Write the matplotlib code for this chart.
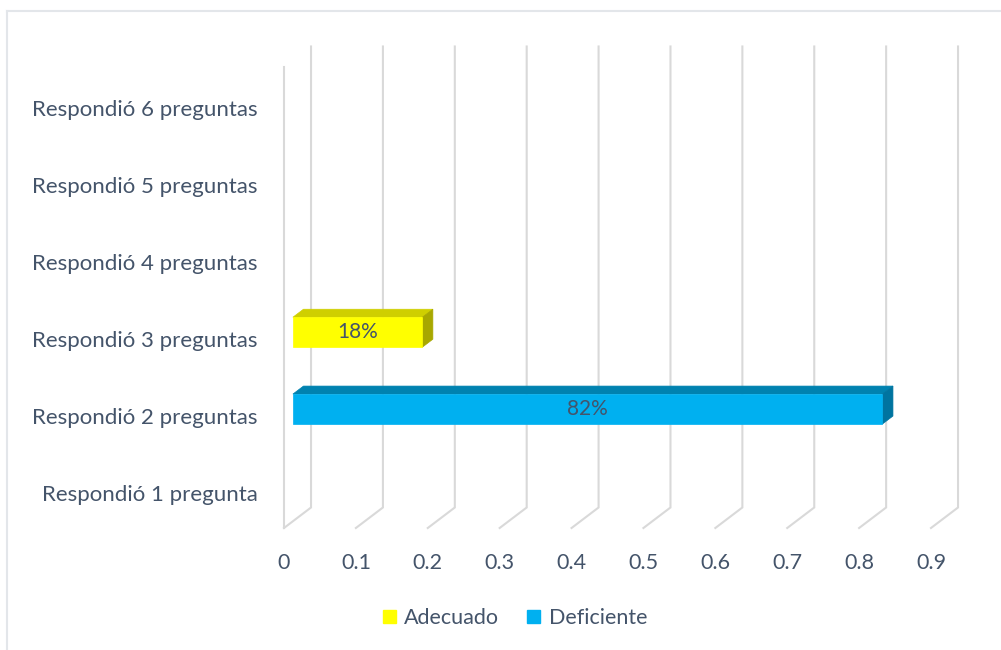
import matplotlib.pyplot as plt
from matplotlib.patches import Polygon, Patch
from matplotlib.lines import Line2D

plt.rcParams['font.family'] = ['Lato', 'DejaVu Sans']

# data
categorias = ["Respondió 1 pregunta", "Respondió 2 preguntas", "Respondió 3 preguntas",
              "Respondió 4 preguntas", "Respondió 5 preguntas", "Respondió 6 preguntas"]
adecuado = [0, 0, 0.18, 0, 0, 0]
deficiente = [0, 0.82, 0, 0, 0, 0]
ticks_x = [0, 0.1, 0.2, 0.3, 0.4, 0.5, 0.6, 0.7, 0.8, 0.9]

texto = "#44546A"
grid = "#D9D9D9"
fs = 15.5

# fake 3D: depth shifts points right and up
DX = 0.0376
DY = 0.267


def p3(v, c, d):
    return (v + d * DX, c + d * DY)


fig = plt.figure(figsize=(10.01, 6.5), dpi=100)
ax = fig.add_axes([284 / 1001, (650 - 528) / 650, (931 - 284) / 1001, (528 - 67) / 650])
ax.set_xlim(0, 0.9)
ax.set_ylim(0.54, 6.54)
for s in ax.spines.values():
    s.set_visible(False)

# walls: back gridlines + floor diagonals + side wall edge
y0, y1 = ax.get_ylim()
for v in ticks_x:
    xs, ys = zip(p3(v, y0, 0), p3(v, y0, 1), p3(v, y1, 1))
    ax.plot(xs, ys, color=grid, lw=1.5, clip_on=False, zorder=1, solid_joinstyle="miter")
xs, ys = zip(p3(0, y0, 0), p3(0, y1, 0))
ax.plot(xs, ys, color=grid, lw=1.5, clip_on=False, zorder=1)


def barra3d(v, c, front, top, side, h=0.195, d0=0.33, d1=0.72):
    caras = [
        ([p3(0, c + h, d0), p3(v, c + h, d0), p3(v, c + h, d1), p3(0, c + h, d1)], top),
        ([p3(v, c - h, d0), p3(v, c + h, d0), p3(v, c + h, d1), p3(v, c - h, d1)], side),
        ([p3(0, c - h, d0), p3(v, c - h, d0), p3(v, c + h, d0), p3(0, c + h, d0)], front),
    ]
    for pts, col in caras:
        ax.add_patch(Polygon(pts, closed=True, facecolor=col, edgecolor=col, lw=0.5,
                             clip_on=False, zorder=3))
    cx, cy = p3(v / 2, c, d0)
    ax.text(cx, cy, f"{v:.0%}", ha="center", va="center", color=texto, fontsize=fs - 0.5, zorder=4)


for i, v in enumerate(adecuado):
    if v > 0:
        barra3d(v, i + 1, "#FFFF00", "#CFCF00", "#A8A800")
for i, v in enumerate(deficiente):
    if v > 0:
        barra3d(v, i + 1, "#00B0F0", "#0082B0", "#0074A0")

ax.set_yticks(range(1, 7))
ax.set_yticklabels(categorias)
ax.set_xticks(ticks_x)
ax.set_xticklabels([f"{t:g}" for t in ticks_x])
ax.tick_params(axis="y", length=0, pad=19, labelsize=16, labelcolor=texto)
ax.tick_params(axis="x", length=0, pad=18, labelsize=fs, labelcolor=texto)

# legend
handles = [Patch(color="#FFFF00", label="Adecuado"), Patch(color="#00B0F0", label="Deficiente")]
fig.legend(handles=handles, loc="center", bbox_to_anchor=(515 / 1001, 1 - 618 / 650), ncol=2,
           frameon=False, fontsize=fs, labelcolor=texto, handlelength=0.6, handleheight=0.6,
           handletextpad=0.4, columnspacing=1.3)

# chart frame (top and left edges)
fig.add_artist(Line2D([7 / 1001, 7 / 1001], [0, 1 - 11 / 650], color="#E3E6EA", lw=1.5))
fig.add_artist(Line2D([7 / 1001, 1], [1 - 11 / 650, 1 - 11 / 650], color="#E3E6EA", lw=1.5))

fig.savefig("out.png", dpi=100)
